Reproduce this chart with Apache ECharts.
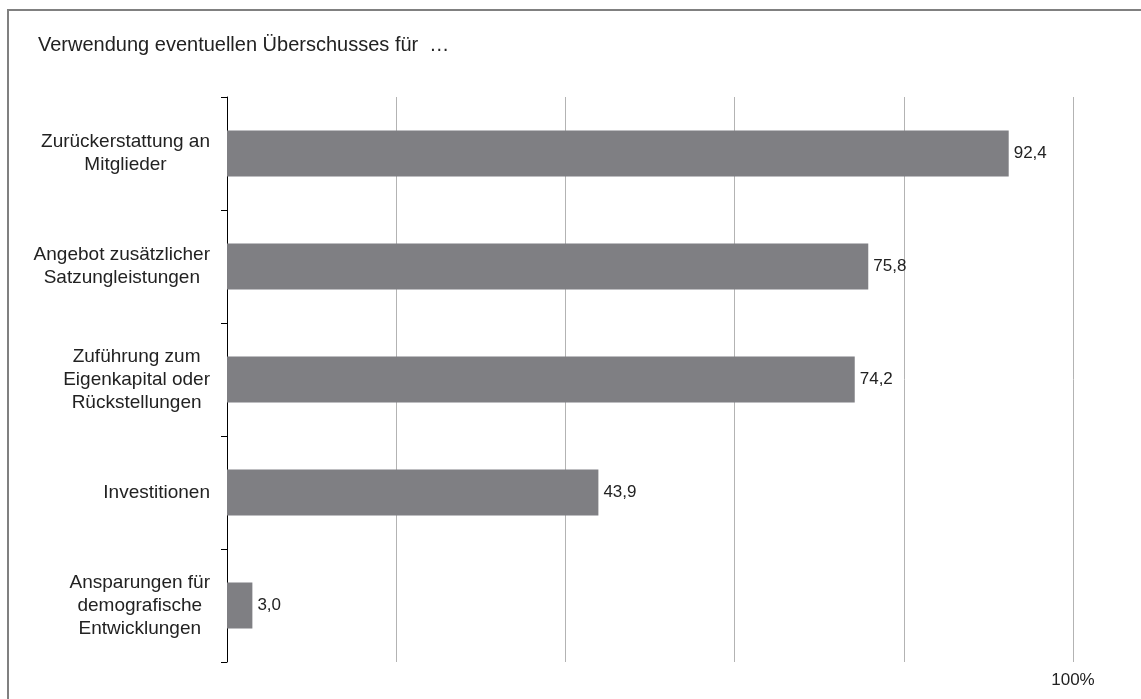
<!DOCTYPE html>
<html>
<head>
<meta charset="utf-8">
<script src="https://cdn.jsdelivr.net/npm/echarts@6/dist/echarts.min.js"></script>
<style>
html,body{margin:0;padding:0;background:#fff;}
#chart{width:1141px;height:699px;}
</style>
</head>
<body>
<div id="chart"></div>
<script>
const titleText = 'Verwendung eventuellen Überschusses für  …';
const categories = [
  'Zurückerstattung an\nMitglieder',
  'Angebot zusätzlicher\nSatzungleistungen',
  'Zuführung zum\nEigenkapital oder\nRückstellungen',
  'Investitionen',
  'Ansparungen für\ndemografische\nEntwicklungen'
];
const values = [92.4, 75.8, 74.2, 43.9, 3.0];
const xTickLabels = {100: '100%'};

const FONT = 'Arial, "Liberation Sans", sans-serif';
const chart = echarts.init(document.getElementById('chart'), null, {renderer: 'canvas'});
chart.setOption({
  animation: false,
  backgroundColor: '#ffffff',
  textStyle: {fontFamily: FONT},
  title: {
    text: titleText,
    left: 38, top: 35, padding: 0,
    textStyle: {fontFamily: FONT, fontSize: 20, fontWeight: 'normal', color: '#222'}
  },
  graphic: [{
    type: 'rect', silent: true, z: -1,
    shape: {x: 8, y: 10, width: 1300, height: 900},
    style: {fill: 'none', stroke: '#808080', lineWidth: 2}
  }],
  grid: {left: 227, right: 68, top: 97, bottom: 37, containLabel: false},
  xAxis: {
    type: 'value', min: 0, max: 100, interval: 20,
    axisLine: {show: false}, axisTick: {show: false},
    splitLine: {show: true, lineStyle: {color: '#b3b3b3', width: 1}},
    axisLabel: {
      margin: 10, fontFamily: FONT, fontSize: 17, color: '#222',
      formatter: v => xTickLabels[v] || ''
    }
  },
  yAxis: {
    type: 'category', inverse: true, data: categories,
    axisLine: {show: true, lineStyle: {color: '#000', width: 1}},
    axisTick: {show: true, length: 6, lineStyle: {color: '#000'}},
    splitLine: {show: false},
    axisLabel: {
      margin: 17, align: 'right', fontFamily: FONT, fontSize: 19, color: '#222',
      lineHeight: 23,
      formatter: v => v.split('\n').map(s => '{c|' + s + '}').join('\n'),
      rich: {c: {align: 'center', fontFamily: FONT, fontSize: 19, color: '#222', lineHeight: 23}}
    }
  },
  series: [{
    type: 'bar', data: values, barWidth: 46,
    itemStyle: {color: '#7f7f83'},
    label: {
      show: true, position: 'right', distance: 5,
      fontFamily: FONT, fontSize: 17, color: '#222',
      formatter: p => p.value.toFixed(1).replace('.', ',')
    }
  }]
});
</script>
</body>
</html>
